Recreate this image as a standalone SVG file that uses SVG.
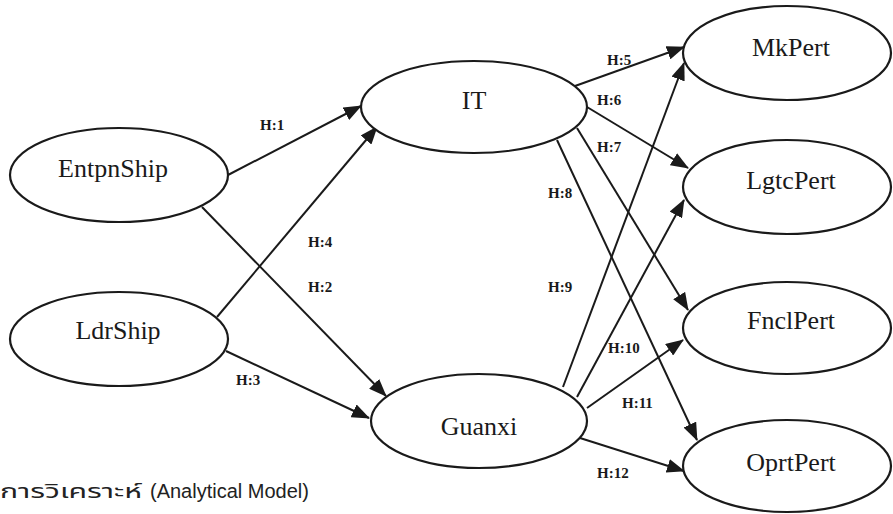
<svg xmlns="http://www.w3.org/2000/svg" width="893" height="514" viewBox="0 0 893 514">
<style>
.node ellipse{fill:#fff;stroke:#1a1a1a;stroke-width:2.2}
.node text{font-family:"Liberation Serif","Times New Roman",serif;font-size:26px;fill:#1a1a1a;text-anchor:middle}
.edge line{stroke:#1a1a1a;stroke-width:2;marker-end:url(#arr)}
.lbl{font-family:"Liberation Serif","Times New Roman",serif;font-size:15px;font-weight:bold;fill:#1a1a1a;dominant-baseline:central}
.cap{font-family:"Liberation Sans","Noto Sans Thai","Noto Sans",Arial,sans-serif;font-size:20px;fill:#222}
</style>
<defs>
<marker id="arr" markerUnits="userSpaceOnUse" markerWidth="18" markerHeight="14" viewBox="0 0 18 14" refX="17" refY="7" orient="auto">
<path d="M0,0 L18,7 L0,14 z" fill="#1a1a1a"/>
</marker>
</defs>
<rect width="893" height="514" fill="#fff"/>
<g id="connectors" class="edge">
<line x1="228" y1="175" x2="361" y2="106"/>
<line x1="202" y1="207" x2="386" y2="396"/>
<line x1="226" y1="351" x2="369" y2="418"/>
<line x1="217" y1="317" x2="377" y2="127"/>
<line x1="575" y1="86" x2="684" y2="47"/>
<line x1="587" y1="107" x2="688" y2="168"/>
<line x1="577" y1="128" x2="688" y2="310"/>
<line x1="557" y1="140" x2="697" y2="440"/>
<line x1="563" y1="387" x2="684" y2="63"/>
<line x1="577" y1="397" x2="684" y2="200"/>
<line x1="587" y1="408" x2="683" y2="340"/>
<line x1="580" y1="438" x2="684" y2="471"/>
</g>
<g id="labels" class="lbl">
<text x="260" y="125">H:1</text>
<text x="308" y="287">H:2</text>
<text x="236" y="380">H:3</text>
<text x="308" y="242">H:4</text>
<text x="607" y="60">H:5</text>
<text x="597" y="100">H:6</text>
<text x="597" y="147">H:7</text>
<text x="548" y="193">H:8</text>
<text x="548" y="287">H:9</text>
<text x="608" y="348">H:10</text>
<text x="622" y="403">H:11</text>
<text x="597" y="473">H:12</text>
</g>
<g id="EntpnShip" class="node"><ellipse cx="119" cy="175" rx="109" ry="47"/><text x="113" y="177">EntpnShip</text></g>
<g id="LdrShip" class="node"><ellipse cx="119" cy="339" rx="109" ry="47"/><text x="118" y="339">LdrShip</text></g>
<g id="IT" class="node"><ellipse cx="474" cy="107" rx="113" ry="46"/><text x="474" y="109">IT</text></g>
<g id="Guanxi" class="node"><ellipse cx="479" cy="421" rx="108" ry="47"/><text x="479" y="435">Guanxi</text></g>
<g id="MkPert" class="node"><ellipse cx="787" cy="53" rx="104" ry="47"/><text x="791" y="56">MkPert</text></g>
<g id="LgtcPert" class="node"><ellipse cx="787" cy="187" rx="104" ry="47"/><text x="791" y="189">LgtcPert</text></g>
<g id="FnclPert" class="node"><ellipse cx="787" cy="328" rx="104" ry="46"/><text x="791" y="329">FnclPert</text></g>
<g id="OprtPert" class="node"><ellipse cx="787" cy="466" rx="104" ry="46"/><text x="791" y="471">OprtPert</text></g>
<text class="cap" x="0" y="498" textLength="142" lengthAdjust="spacingAndGlyphs">การวิเคราะห์</text>
<text class="cap" x="150" y="498">(Analytical Model)</text>
</svg>
